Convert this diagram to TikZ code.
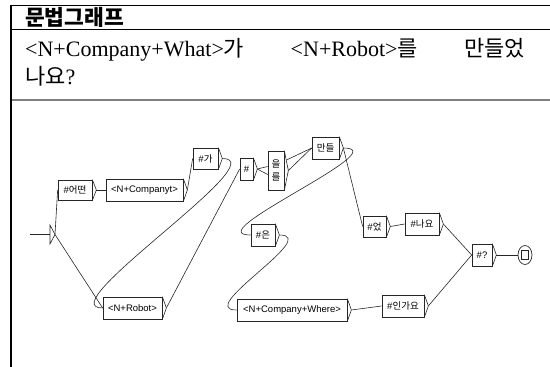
\documentclass[tikz,border=0pt]{standalone}
\usepackage{fontspec}
\setmainfont{Liberation Serif}
\newfontfamily\kr{Noto Sans CJK KR}
\newfontfamily\lblfont{Liberation Sans}
\usetikzlibrary{shapes.geometric}
\newcommand\outmk[1]{\draw[ln] (#1.north east) -- ([xshift=4pt]#1.east) coordinate (#1-o) -- (#1.south east);}
\begin{document}
\begin{tikzpicture}[x=1pt,y=-1pt,
  bx/.style={draw=black!85, line width=0.7pt, rectangle, inner sep=0pt, minimum height=22pt, font=\lblfont\fontsize{9.5}{10}\selectfont},
  ln/.style={draw=black!85, line width=0.6pt},
  hdr/.style={anchor=base west, inner sep=0pt, font=\fontsize{22}{26}\selectfont}]
\useasboundingbox (0,0) rectangle (550,367);
% frame
\draw[line width=0.8pt] (11,5) -- (550,5);
\draw[line width=0.8pt] (11,29.5) -- (550,29.5);
\draw[gray, line width=1.5pt] (11,100) -- (550,100);
\draw[line width=1.5pt] (11,5) -- (11,367);
% header texts
\node[anchor=base west, inner sep=0pt, font=\kr\bfseries\fontsize{21.5}{24}\selectfont] (title) at (25,25) {문법그래프};
\node[hdr] (line1) at (25,56) {\makebox[500pt][s]{<N+Company+What>{\kr 가} <N+Robot>{\kr 를} {\kr 만들었}}};
\node[hdr] (line2) at (25,84) {{\kr 나요}?};
% initial state
\coordinate (start) at (30,234.5);
\coordinate (init) at (55,234.5);
\draw[ln] (start) -- (50,234.5);
\draw[ln] (50,225) -- (50,244) -- (init) -- cycle;
% boxes
\node[bx, minimum width=34pt, minimum height=20pt] (eod) at (75,190) {\#{\kr 어떤}};
\node[bx, minimum width=77pt] (cmp) at (144.5,190) {<N+Companyt>};
\node[bx, minimum width=25pt, minimum height=21pt] (ga) at (205.5,158.5) {\#{\kr 가}};
\node[bx, minimum width=59pt] (rob) at (132.5,308) {<N+Robot>};
\node[bx, minimum width=13pt] (hash) at (246.5,169) {\#};
\node[bx, minimum width=16pt, minimum height=39pt, align=center] (eul) at (276,170.5) {{\kr 을}\\[3pt]{\kr 를}};
\node[bx, minimum width=27pt] (man) at (325.5,148) {\kr 만들};
\node[bx, minimum width=24pt] (eun) at (263,235) {\#{\kr 은}};
\node[bx, minimum width=110pt] (whr) at (292,310) {<N+Company+Where>};
\node[bx, minimum width=23pt, minimum height=21pt] (eot) at (374.5,226.5) {\#{\kr 었}};
\node[bx, minimum width=34pt] (nay) at (422,224) {\#{\kr 나요}};
\node[bx, minimum width=42pt] (ing) at (403,306) {\#{\kr 인가요}};
\node[bx, minimum width=20pt] (q) at (482,255) {\#?};
\node[draw=black!85, line width=0.7pt, ellipse, minimum width=14pt, minimum height=19pt, inner sep=0pt] (fin) at (525,255) {};
\node[draw=black!85, line width=0.6pt, rectangle, minimum width=7pt, minimum height=9pt, inner sep=0pt] (finsq) at (fin.center) {};
% output markers
\outmk{eod}\outmk{cmp}\outmk{ga}\outmk{rob}\outmk{hash}\outmk{eul}\outmk{man}
\outmk{eun}\outmk{whr}\outmk{eot}\outmk{nay}\outmk{ing}\outmk{q}
\coordinate (eulu) at (286.5,160);
% connectors
\draw[ln] (init) -- (eod.west);
\draw[ln] (init) -- (rob.west);
\draw[ln] (eod-o) -- (cmp.west);
\draw[ln] (cmp-o) -- (ga.west);
\draw[ln] (ga-o) .. controls +(55,0) and +(-55,0) .. (rob.west);
\draw[ln] (rob-o) -- (hash.west);
\draw[ln] (hash-o) -- ([yshift=4pt]eul.west);
\draw[ln] (hash-o) -- ([yshift=-4pt]eul.west);
\draw[ln] (eulu) -- (man.west);
\draw[ln] (eul-o) -- (man.west);
\draw[ln] (man-o) -- (eot.west);
\draw[ln] (man-o) .. controls +(55,0) and +(-55,0) .. (eun.west);
\draw[ln] (eun-o) .. controls +(43,0) and +(-43,0) .. (whr.west);
\draw[ln] (whr-o) -- (ing.west);
\draw[ln] (eot-o) -- (nay.west);
\draw[ln] (nay-o) -- (q.west);
\draw[ln] (ing-o) -- (q.west);
\draw[ln] (q-o) -- (fin.west);
\end{tikzpicture}
\end{document}
